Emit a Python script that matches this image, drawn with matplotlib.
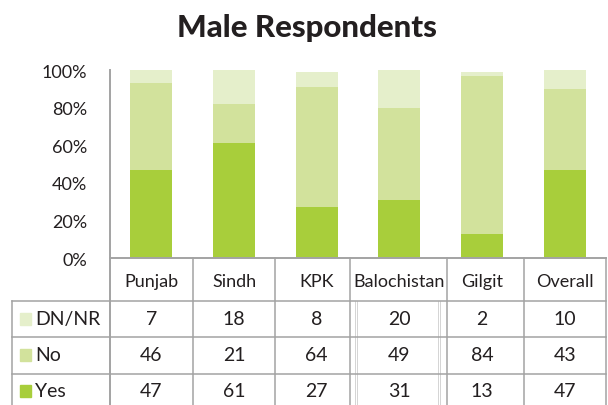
import matplotlib
matplotlib.use('Agg')
import matplotlib.pyplot as plt
from matplotlib.patches import Rectangle
from matplotlib.transforms import blended_transform_factory
import numpy as np

categories = ['Punjab', 'Sindh', 'KPK', 'Balochistan', 'Gilgit', 'Overall']
yes = [47, 61, 27, 31, 13, 47]
no = [46, 21, 64, 49, 84, 43]
dnnr = [7, 18, 8, 20, 2, 10]
ytick_vals = [0, 20, 40, 60, 80, 100]
title = 'Male Respondents'

c_yes = '#a8ce3b'
c_no = '#d2e29c'
c_dn = '#e5efcb'
grid_c = '#a3a3a3'
txt_c = '#231f20'

plt.rcParams['font.family'] = ['Lato', 'DejaVu Sans']

W, H = 608, 406
fig = plt.figure(figsize=(W / 100, H / 100), dpi=100)


def px(x0, y0, x1, y1):
    return [x0 / W, 1 - y1 / H, (x1 - x0) / W, (y1 - y0) / H]


ax = fig.add_axes(px(110, 71, 606, 259))
x = np.arange(len(categories))
yes_a, no_a, dn_a = np.array(yes), np.array(no), np.array(dnnr)
ax.bar(x, yes_a, width=0.51, color=c_yes, zorder=2)
ax.bar(x, no_a, width=0.51, bottom=yes_a, color=c_no, zorder=2)
ax.bar(x, dn_a, width=0.51, bottom=yes_a + no_a, color=c_dn, zorder=2)
ax.set_xlim(-0.5, len(categories) - 0.5)
ax.set_ylim(0, 100)
ax.set_yticks(ytick_vals)
ax.set_yticklabels([f'{v}%' for v in ytick_vals], fontsize=13, color=txt_c)
ax.tick_params(axis='y', length=0, pad=16.5)
ax.set_xticks([])
for s in ['top', 'right']:
    ax.spines[s].set_visible(False)
for s in ['left', 'bottom']:
    ax.spines[s].set_color(grid_c)
    ax.spines[s].set_linewidth(1.4)
ax.patch.set_alpha(0)

# overlay for title and table (pixel coordinates)
ov = fig.add_axes([0, 0, 1, 1])
ov.set_xlim(0, W)
ov.set_ylim(H, 0)
ov.axis('off')
ov.patch.set_alpha(0)

ov.text(307, 37, title, ha='center', va='baseline',
        fontsize=22.5, fontweight='black', color=txt_c)

lw = 1.1
bounds = [110, 193, 275, 350, 447, 524, 606]
ov.plot([110, 110], [259, H], color=grid_c, lw=1.4)
for b in bounds[1:]:
    ov.plot([b, b], [259, H], color=grid_c, lw=lw)
ov.plot([12, 12], [301.5, H], color=grid_c, lw=lw)
for xx in [355, 357, 437.5, 439.5]:
    ov.plot([xx, xx], [301.5, H], color='#c4c4c4', lw=0.5)
for yy in [301.5, 338, 375]:
    ov.plot([12, 606], [yy, yy], color=grid_c, lw=lw)

trans = blended_transform_factory(ax.transData, ov.transData)
for i, cat in enumerate(categories):
    ov.text(i, 287, cat, transform=trans, ha='center', va='baseline',
            fontsize=13, color=txt_c)

rows = [('DN/NR', dnnr, c_dn, 325.5), ('No', no, c_no, 361.5), ('Yes', yes, c_yes, 397.5)]
for name, vals, col, yb in rows:
    ov.add_patch(Rectangle((20, yb - 11.5), 11, 11.5, color=col))
    ov.text(35, yb, name, ha='left', va='baseline', fontsize=14, color=txt_c)
    for i, v in enumerate(vals):
        ov.text(i, yb, str(v), transform=trans, ha='center', va='baseline',
                fontsize=14, color=txt_c)

fig.savefig('out.png', dpi=100)
